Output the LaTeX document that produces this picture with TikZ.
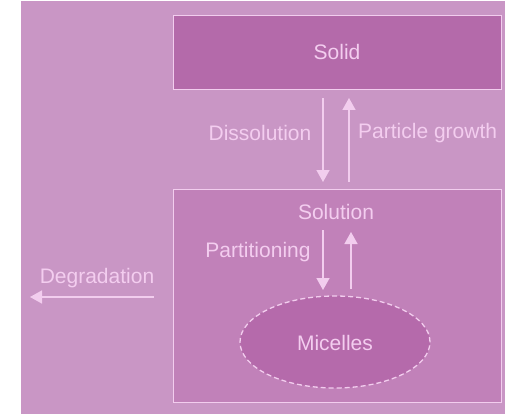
\documentclass[tikz,border=0pt]{standalone}
\usepackage{fontspec}
\setmainfont{Liberation Sans}
\usetikzlibrary{shapes.geometric,arrows.meta}
\definecolor{bgc}{HTML}{C996C5}
\definecolor{solidc}{HTML}{B46AAA}
\definecolor{solnc}{HTML}{C181B9}
\definecolor{micc}{HTML}{B56AAB}
\definecolor{linec}{HTML}{F2CDEE}
\definecolor{txtc}{HTML}{F3CDEF}
\tikzset{
  boxc/.style={draw=linec, line width=1.3pt},
  lbl/.style={text=txtc, font=\fontsize{21}{24}\selectfont, inner sep=0pt},
  arr/.style={draw=linec, line width=1.5pt, -{Triangle[length=12pt,width=13pt]}},
}
\begin{document}
\begin{tikzpicture}[x=1pt,y=-1pt]
\useasboundingbox (0,0) rectangle (505,414);
\fill[bgc] (21,1) rectangle (505,414);
\node[boxc, fill=solidc, minimum width=328pt, minimum height=74pt, anchor=north west, inner sep=0pt] (solid) at (173,15) {};
\node[lbl] (solidt) at (337,52) {Solid};
\node[boxc, fill=solnc, minimum width=328pt, minimum height=213pt, anchor=north west, inner sep=0pt] (soln) at (173,189) {};
\node[lbl] (solnt) at (336,212) {Solution};
\node[draw=linec, dash pattern=on 5pt off 3pt, line width=1.3pt, fill=micc, ellipse, minimum width=190pt, minimum height=92pt, inner sep=0pt] (mic) at (335,342) {};
\node[lbl] (mict) at (335,343) {Micelles};
\coordinate (d1s) at (323,98);
\coordinate (d1e) at (323,182);
\coordinate (u1s) at (349,182);
\coordinate (u1e) at (349,98);
\draw[arr] (d1s) -- (d1e);
\draw[arr] (u1s) -- (u1e);
\node[lbl] (diss) at (260,133) {Dissolution};
\node[lbl, anchor=west] (pg) at (358,133) {Particle growth};
\coordinate (d2s) at (323,230);
\coordinate (d2e) at (323,290);
\coordinate (u2s) at (351,289);
\coordinate (u2e) at (351,232);
\draw[arr] (d2s) -- (d2e);
\draw[arr] (u2s) -- (u2e);
\node[lbl] (part) at (258,252) {Partitioning};
\node[lbl] (deg) at (97,278) {Degradation};
\coordinate (dgs) at (154,297);
\coordinate (dge) at (30,297);
\draw[arr] (dgs) -- (dge);
\end{tikzpicture}
\end{document}
